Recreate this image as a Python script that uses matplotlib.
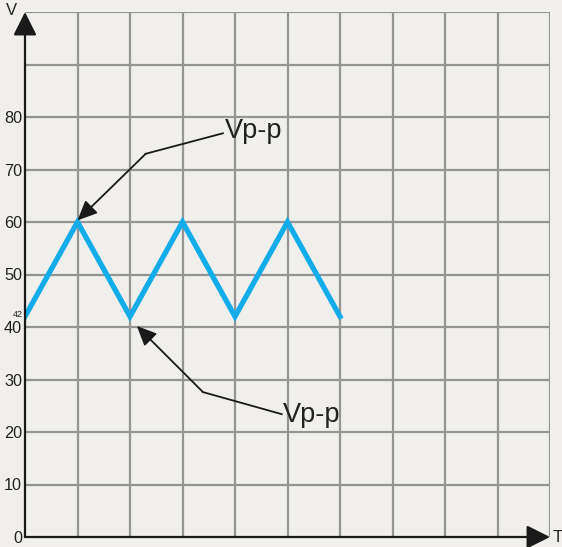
import matplotlib
matplotlib.use('Agg')
from matplotlib import pyplot as plt

# triangle wave data
t = [0, 1, 2, 3, 4, 5, 6]
v = [42, 60, 42, 60, 42, 60, 42]

grid_x = list(range(0, 11))
grid_y = list(range(0, 101, 10))
ytick_labels = ['0', '10', '20', '30', '40', '50', '60', '70', '80', '', '']

# annotation paths: text anchor, line start, bend point, arrow tip
ann_top = [(3.81, 77.4), (3.77, 76.9), (2.30, 73.0), (1.0, 60.3)]
ann_bot = [(4.91, 23.2), (4.89, 23.4), (3.39, 27.6), (2.13, 40.2)]

bg = '#f0efeb'
plt.rcParams['font.family'] = ['Liberation Sans', 'DejaVu Sans']

fig = plt.figure(figsize=(5.62, 5.47), dpi=100, facecolor=bg)
ax = fig.add_axes([25/562, 10/547, 525/562, 525/547])
ax.set_facecolor(bg)
ax.set_xlim(0, 10)
ax.set_ylim(0, 100)

for s in ax.spines.values():
	s.set_visible(False)

# grid
for gx in grid_x[1:]:
	ax.axvline(gx, color='#949494', lw=1.6, zorder=1)
for gy in grid_y[1:]:
	ax.axhline(gy, color='#949494', lw=1.6, zorder=1)

ax.set_xticks([])
ax.set_yticks(grid_y)
ax.set_yticklabels(ytick_labels, fontsize=11.7, color='#222222')
ax.tick_params(axis='y', length=0, pad=2)

# axis arrows
axis_arrow = dict(arrowstyle='-|>,head_length=1.1,head_width=0.55', color='#1a1a1a', lw=1.6, mutation_scale=13, shrinkA=0, shrinkB=0)
ax.annotate('', xy=(0, 100), xytext=(0, 0), xycoords='data', arrowprops=axis_arrow, annotation_clip=False, zorder=5)
ax.annotate('', xy=(10, 0), xytext=(0, 0), xycoords='data', arrowprops=axis_arrow, annotation_clip=False, zorder=5)

ax.text(-0.25, 100.3, 'V', fontsize=12, ha='center', va='center', color='#222222', clip_on=False)
ax.text(10.15, 0, 'T', fontsize=12, ha='center', va='center', color='#222222', clip_on=False)
ax.text(-0.05, 42.3, '42', fontsize=6.5, ha='right', va='center', color='#222222', clip_on=False)

# signal
ax.plot(t, v, color='#12acea', lw=3.8, solid_joinstyle='miter', zorder=3)

# annotations
for path in (ann_top, ann_bot):
	(tx, ty), (sx, sy), (bx, by), (px, py) = path
	ax.plot([sx, bx], [sy, by], color='#1a1a1a', lw=1.3, zorder=4)
	ax.annotate('', xy=(px, py), xytext=(bx, by),
		arrowprops=dict(arrowstyle='-|>,head_length=1.0,head_width=0.45', color='#1a1a1a', lw=1.3, mutation_scale=12, shrinkA=0, shrinkB=0),
		zorder=4)
	ax.text(tx, ty, 'Vp-p', fontsize=19.5, ha='left', va='center', color='#222222')

fig.savefig('out.png', dpi=100, facecolor=bg)
